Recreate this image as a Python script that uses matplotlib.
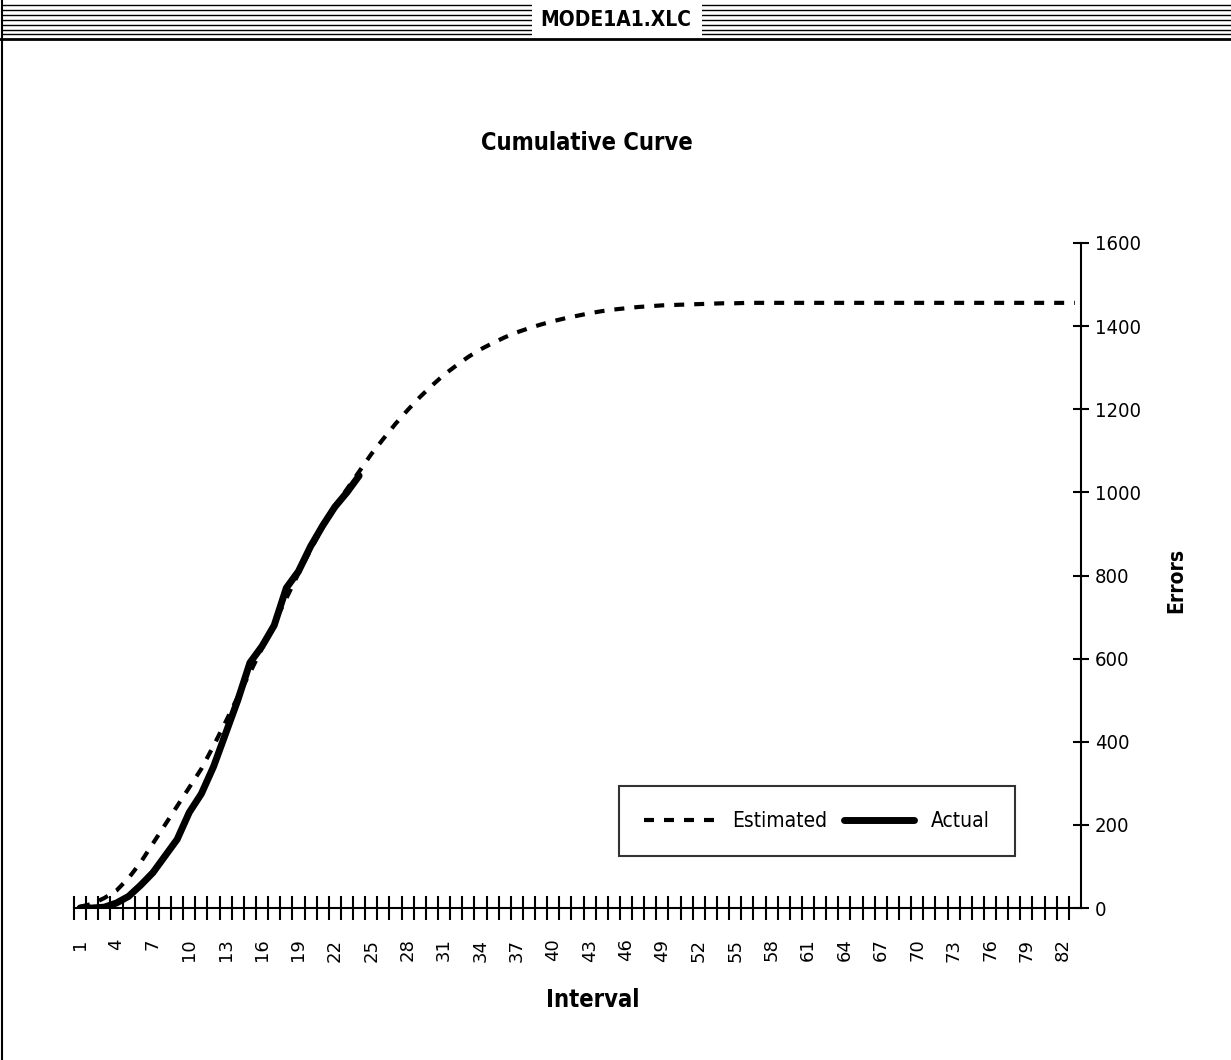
import matplotlib
matplotlib.use('Agg')
import matplotlib.pyplot as plt
from matplotlib.ticker import FixedLocator
from matplotlib.patches import Rectangle

intervals = list(range(1, 84))
estimated = [3, 10, 24, 42, 72, 110, 155, 200, 245, 290,
             335, 390, 448, 508, 566, 625, 685, 745, 805, 862,
             916, 966, 1008, 1050, 1092, 1129, 1165, 1198, 1229, 1257,
             1283, 1305, 1326, 1344, 1359, 1373, 1385, 1395, 1404, 1412,
             1419, 1425, 1431, 1436, 1440, 1443, 1446, 1448, 1450, 1451,
             1452, 1453, 1454, 1455, 1455, 1456, 1456, 1456, 1456, 1456,
             1456, 1456, 1456, 1456, 1456, 1456, 1456, 1456, 1456, 1456,
             1456, 1456, 1456, 1456, 1456, 1456, 1456, 1456, 1456, 1456,
             1456, 1456, 1456]
actual = [0, 0, 2, 12, 28, 55, 85, 125, 165, 230,
          275, 340, 420, 500, 590, 630, 680, 770, 810, 870,
          920, 965, 1000, 1040]
x_labels = list(range(1, 84, 3))
y_ticks = [0, 200, 400, 600, 800, 1000, 1200, 1400, 1600]

cond = dict(family='DejaVu Sans', stretch='condensed')

W, H = 1231, 1060
fig = plt.figure(figsize=(W / 100, H / 100), dpi=100)

# window frame (title bar with stripes)
frame = fig.add_axes([0, 0, 1, 1], zorder=-1)
frame.set_xlim(0, W)
frame.set_ylim(H, 0)
frame.axis('off')
for yy in [5, 10, 15, 20, 25, 30, 34]:
    frame.plot([3, W], [yy, yy], color='black', lw=1.0, zorder=1)
frame.plot([0, W], [38.5, 38.5], color='black', lw=2, zorder=1)
frame.plot([2, 2], [0, H], color='black', lw=1.5, zorder=1)
frame.add_patch(Rectangle((532, 2), 170, 34, facecolor='white',
                          edgecolor='none', zorder=3))
frame.text(616, 20, 'MODE1A1.XLC', ha='center', va='center', fontsize=15,
           fontweight='bold', zorder=4, **cond)

# axis titles
frame.text(593, 1000, 'Interval', ha='center', va='center', fontsize=17,
           fontweight='bold', **cond)
frame.text(1176, 580, 'Errors', ha='center', va='center', rotation=90,
           fontsize=15, fontweight='bold', **cond)
frame.text(587, 143, 'Cumulative Curve', ha='center', va='center',
           fontsize=17, fontweight='bold', **cond)

ax = fig.add_axes([74 / W, 1 - 908 / H, (1081 - 74) / W, (908 - 243) / H])
ax.plot(intervals, estimated, color='black', lw=3, dashes=(2.4, 2.4),
        label='Estimated')
ax.plot(intervals[:len(actual)], actual, color='black', lw=5,
        label='Actual', solid_capstyle='round')

ax.set_xlim(0.5, 83.5)
ax.set_ylim(0, 1600)
for s in ['top', 'left']:
    ax.spines[s].set_visible(False)
ax.spines['bottom'].set_linewidth(1.5)
ax.spines['right'].set_linewidth(1.5)

ax.xaxis.set_major_locator(FixedLocator(x_labels))
ax.xaxis.set_minor_locator(FixedLocator([i + 0.5 for i in range(0, 83)]))
ax.set_xticklabels([str(v) for v in x_labels], rotation=90, fontsize=13,
                   family='DejaVu Sans')
ax.tick_params(axis='x', which='major', length=0, pad=22)
ax.tick_params(axis='x', which='minor', length=17, width=1.5,
               direction='inout')

ax.yaxis.tick_right()
ax.set_yticks(y_ticks)
ax.set_yticklabels([str(v) for v in y_ticks], fontsize=14.5, **cond)
ax.tick_params(axis='y', length=12, width=1.5, direction='inout', pad=4)

leg = ax.legend(loc='center', bbox_to_anchor=(0.738, 0.131), ncol=2,
                prop={'family': 'DejaVu Sans', 'stretch': 'condensed',
                      'size': 15},
                frameon=True, fancybox=False, handlelength=3.4,
                handletextpad=0.8, columnspacing=0.8, borderpad=1.2)
leg.get_frame().set_edgecolor('black')
leg.get_frame().set_linewidth(1.5)

fig.savefig('out.png', dpi=100, facecolor='white')
